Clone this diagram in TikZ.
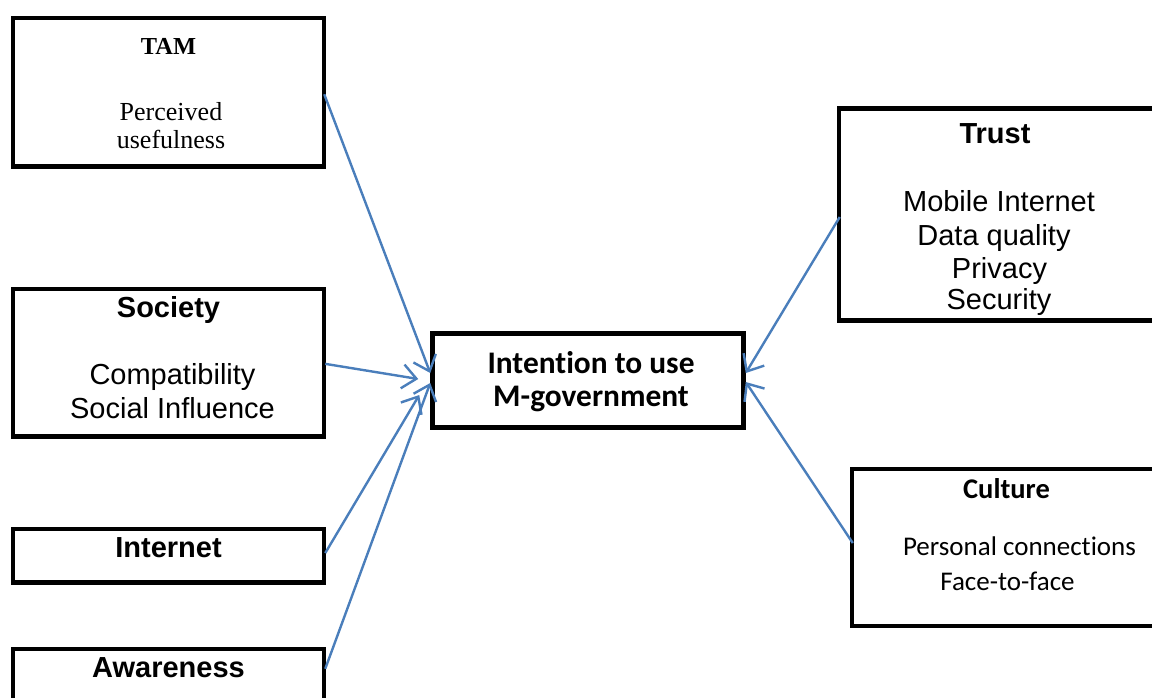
\documentclass[tikz,border=0pt]{standalone}
\usepackage{fontspec}
\setmainfont{Liberation Sans}
\newfontfamily\arialf{Liberation Sans}
\newfontfamily\tnrf{Liberation Serif}
\newfontfamily\calibf[Ligatures=NoCommon]{Carlito}
\usetikzlibrary{arrows.meta}
\definecolor{arrblue}{HTML}{4A7EBB}
\begin{document}
\begin{tikzpicture}[x=1pt,y=-1pt,
  box/.style={draw=black, line width=4.5pt, fill=white, inner sep=0pt},
  txt/.style={anchor=base, inner sep=0pt, outer sep=0pt},
  arr/.style={draw=arrblue, line width=2.4pt, -{Straight Barb[length=14pt,width=24pt]}},
  ar/.style={font=\arialf\fontsize{29}{33}\selectfont},
  arb/.style={font=\arialf\bfseries\fontsize{29}{33}\selectfont},
  tr/.style={font=\tnrf\fontsize{26}{30}\selectfont},
  trb/.style={font=\tnrf\bfseries\fontsize{24.4}{28}\selectfont},
  cb/.style={font=\calibf\fontsize{27}{33}\selectfont},
  cbb/.style={font=\calibf\bfseries\fontsize{28.5}{34}\selectfont},
  cbc/.style={font=\calibf\bfseries\fontsize{31.4}{36}\selectfont}]
\useasboundingbox (0,0) rectangle (1152,697);
\clip (0,0) rectangle (1152,697);
% boxes
\node[box, minimum width=311pt, minimum height=148.5pt] (tam) at (168.5,92.25) {};
\node[box, minimum width=311pt, minimum height=147.7pt] (society) at (168.5,362.85) {};
\node[box, minimum width=311pt, minimum height=53.5pt] (internet) at (168.5,555.75) {};
\node[box, minimum width=311pt, minimum height=80pt] (awareness) at (168.5,689) {};
\node[box, minimum width=311pt, minimum height=94.2pt] (center) at (588,380.4) {};
\node[box, minimum width=318pt, minimum height=212.2pt] (trust) at (998,214.4) {};
\node[box, minimum width=338pt, minimum height=157pt] (culture) at (1021,547.5) {};
% texts
\node[txt, trb] (tamT) at (168.5,54) {TAM};
\node[txt, tr] (tamA) at (171,120) {Perceived};
\node[txt, tr] (tamB) at (171,148) {usefulness};
\node[txt, arb] (socT) at (168.5,317) {Society};
\node[txt, ar] (socA) at (172.5,384) {Compatibility};
\node[txt, ar] (socB) at (172.5,418) {Social Influence};
\node[txt, arb] (intT) at (168.5,557) {Internet};
\node[txt, arb] (awaT) at (168.5,677) {Awareness};
\node[txt, cbc] (cenA) at (591,373) {Intention to use};
\node[txt, cbc] (cenB) at (591,406) {M-government};
\node[txt, arb] (truT) at (995,143) {Trust};
\node[txt, ar] (truA) at (999,211) {Mobile Internet};
\node[txt, ar] (truB) at (994,245) {Data quality};
\node[txt, ar] (truC) at (999.5,278) {Privacy};
\node[txt, ar] (truD) at (999,309) {Security};
\node[txt, cbb] (culT) at (1006.5,498) {Culture};
\node[txt, cb] (culA) at (1019.5,555) {Personal connections};
\node[txt, cb] (culB) at (1007.5,590) {Face-to-face};
% connectors
\draw[arr] ([yshift=-2pt,xshift=-2pt]tam.east) -- ([yshift=7.4pt]center.west);
\draw[arr] ([yshift=-1pt,xshift=-1pt]society.east) -- ([xshift=-12pt,yshift=1.4pt]center.west);
\draw[arr] ([yshift=2.7pt,xshift=-1pt]internet.east) -- ([xshift=-11pt,yshift=-14.6pt]center.west);
\draw[arr] ([yshift=-22pt,xshift=-1pt]awareness.north east) -- ([yshift=-2.6pt]center.west);
\draw[arr] ([yshift=-2.6pt,xshift=3pt]trust.west) -- ([yshift=7.4pt]center.east);
\draw[arr] ([yshift=4.5pt,xshift=3pt]culture.west) -- ([yshift=-1.6pt]center.east);
\end{tikzpicture}
\end{document}
